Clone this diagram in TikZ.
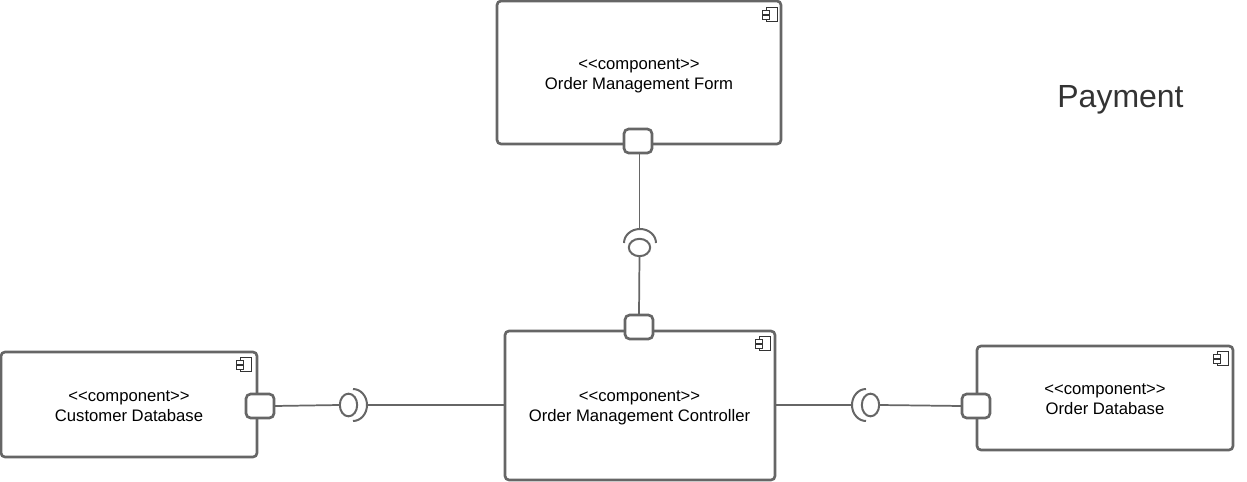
\documentclass[tikz,border=0pt]{standalone}
\usepackage{fontspec}
\usepackage{tikz}
\usetikzlibrary{shapes.geometric}
\setmainfont{Liberation Sans}
\definecolor{umlgray}{HTML}{666666}
\tikzset{
  compbox/.style={draw=umlgray,line width=2pt,rounded corners=3pt,fill=white,
    inner sep=0pt,outer sep=0pt},
  complabel/.style={align=center,inner sep=0pt,font=\fontsize{12.5}{15}\selectfont},
  portbox/.style={draw=umlgray,line width=2pt,rounded corners=3.5pt,fill=white,
    inner sep=0pt,outer sep=0pt,minimum width=21pt,minimum height=18pt},
  ballnode/.style={ellipse,draw=umlgray,line width=1.5pt,inner sep=0pt,outer sep=0pt},
  socket/.style={draw=umlgray,line width=1.5pt},
  conn/.style={draw=umlgray,line width=1.3pt},
  icon/.style={draw=black!80,line width=0.7pt,fill=white}
}
\newcommand{\compicon}[2]{% top right corner of the small icon
  \draw[icon] (#1-11,#2) rectangle (#1,#2+14.5);
  \draw[icon] (#1-15,#2+3.5) rectangle (#1-8,#2+7.5);
  \draw[icon] (#1-15,#2+8) rectangle (#1-8,#2+12);
}
\begin{document}
\begin{tikzpicture}[x=0.75pt,y=-0.75pt]
  \useasboundingbox (0,0) rectangle (1247,482);
  % Components
  \node[compbox,minimum width=213pt,minimum height=107.25pt] (form) at (639,72.5) {};
  \node[compbox,minimum width=202.5pt,minimum height=111.75pt] (controller) at (640,405.5) {};
  \node[compbox,minimum width=192pt,minimum height=78.75pt] (customer) at (129,404.5) {};
  \node[compbox,minimum width=192pt,minimum height=78pt] (orderdb) at (1105,398) {};
  \node[complabel] (formlabel) at (639,75.5) {<{}<component>{}>\\Order Management Form};
  \node[complabel] (controllerlabel) at (639.5,407.5) {<{}<component>{}>\\Order Management Controller};
  \node[complabel] (customerlabel) at (129,406.5) {<{}<component>{}>\\Customer Database};
  \node[complabel] (orderdblabel) at (1105,399.5) {<{}<component>{}>\\Order Database};
  \compicon{777}{7}
  \compicon{770}{336}
  \compicon{251}{357}
  \compicon{1228}{351}
  % Ports
  \node[portbox] (formport) at (638,141) {};
  \node[portbox] (ctrlport) at (639,327) {};
  \node[portbox] (custport) at (260,406) {};
  \node[portbox] (dbport) at (976,406) {};
  % Interfaces
  \node[ballnode,minimum width=16pt,minimum height=13pt] (topball) at (639.5,247.5) {};
  \node[ballnode,minimum width=13pt,minimum height=17pt] (leftball) at (348.5,405) {};
  \node[ballnode,minimum width=13pt,minimum height=17pt] (rightball) at (870.5,405) {};
  \coordinate (topsock) at (639.5,229);
  \coordinate (leftsock) at (367,405);
  \coordinate (rightsock) at (852,405);
  \draw[socket] (656,243) arc[start angle=0,end angle=180,x radius=12pt,y radius=10.5pt];
  \draw[socket] (353,389) arc[start angle=90,end angle=-90,x radius=10.5pt,y radius=12pt];
  \draw[socket] (866,389) arc[start angle=90,end angle=270,x radius=10.5pt,y radius=12pt];
  % Connectors
  \draw[conn] (topsock|-formport.south) -- (topsock);
  \draw[conn] (topball.south) -- (ctrlport.north);
  \draw[conn] (custport.east) -- (leftball.west);
  \draw[conn] (leftsock) -- (leftsock-|controller.west);
  \draw[conn] (rightsock-|controller.east) -- (rightsock);
  \draw[conn] (rightball.east) -- (dbport.west);
  % Title
  \node[font=\fontsize{24}{28}\selectfont,text=black!80] (title) at (1120.5,99.5) {Payment};
\end{tikzpicture}
\end{document}
